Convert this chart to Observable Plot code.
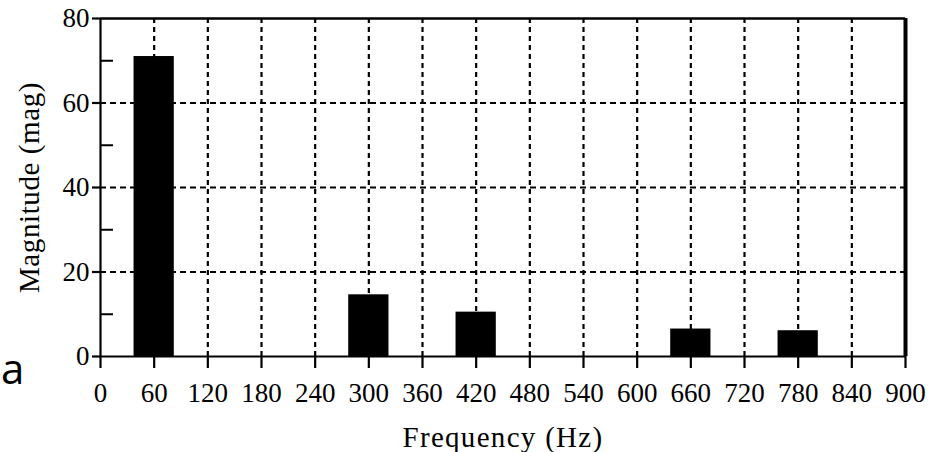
<!DOCTYPE html>
<html>
<head>
<meta charset="utf-8">
<script src="https://cdn.jsdelivr.net/npm/d3@7"></script>
<script src="https://cdn.jsdelivr.net/npm/@observablehq/plot@0.6"></script>
<style>
  html, body { margin: 0; padding: 0; background: #fff; }
  #wrap { position: relative; width: 930px; height: 452px; overflow: hidden; }
  #panel { position: absolute; left: 1px; top: 347px; font-family: "Open Sans", sans-serif; font-size: 42px; line-height: 1; color: #000; }
  #chart svg g[aria-label="x-axis tick label"],
  #chart svg g[aria-label="y-axis tick label"] { font-size: 27px !important; }
</style>
</head>
<body>
<div id="wrap">
  <div id="chart"></div>
  <div id="panel">a</div>
</div>
<script>
// Data
const frequencies = [60, 300, 420, 660, 780];            // Hz
const magnitudes  = [71, 14.6, 10.5, 6.5, 6.1];           // mag
const xTicks = [0, 60, 120, 180, 240, 300, 360, 420, 480, 540, 600, 660, 720, 780, 840, 900];
const yTicks = [0, 20, 40, 60, 80];
const yMinorTicks = [10, 30, 50, 70];
const xGrid = [60, 120, 180, 240, 300, 360, 420, 480, 540, 600, 660, 720, 780, 840];
const yGrid = [20, 40, 60];
const xLabel = "Frequency (Hz)";
const yLabel = "Magnitude (mag)";
const barWidthHz = 45;

const bars = frequencies.map((f, i) => ({f, m: magnitudes[i]}));

const W = 930, H = 452;
const mL = 100, mR = 25, mT = 18, mB = 96;
const serif = "'Liberation Serif', 'DejaVu Serif', serif";

const chart = Plot.plot({
  width: W,
  height: H,
  marginLeft: mL,
  marginRight: mR,
  marginTop: mT,
  marginBottom: mB,
  style: {fontFamily: serif, fontSize: "27px", color: "#000", background: "#fff", overflow: "visible"},
  x: {domain: [0, 900]},
  y: {domain: [0, 80]},
  marks: [
    // dashed grid
    Plot.ruleX(xGrid, {stroke: "#000", strokeWidth: 2.2, strokeDasharray: "5,4"}),
    Plot.ruleY(yGrid, {stroke: "#000", strokeWidth: 2.2, strokeDasharray: "6,4"}),
    // bars
    Plot.rectY(bars, {x1: d => d.f - barWidthHz / 2, x2: d => d.f + barWidthHz / 2, y1: 0, y2: "m", fill: "#000"}),
    // frame lines
    Plot.ruleY([0], {stroke: "#000", strokeWidth: 2.2}),
    Plot.ruleY([80], {stroke: "#000", strokeWidth: 2.5}),
    Plot.ruleX([0], {stroke: "#000", strokeWidth: 2.2}),
    Plot.ruleX([900], {stroke: "#000", strokeWidth: 4, y1: 0, y2: 80}),
    // minor inward y ticks
    Plot.tickY(yMinorTicks, {y: d => d, stroke: "#000", strokeWidth: 2, insetRight: (W - mL - mR) - 13}),
    // axes
    Plot.axisX(xTicks, {tickSize: 12, tickPadding: 14, strokeWidth: 2.2, fontSize: 27, fontFamily: serif, tickFormat: d => String(d), label: null}),
    Plot.axisY(yTicks, {tickSize: 8, tickPadding: 3, strokeWidth: 2.2, fontSize: 27, fontFamily: serif, tickFormat: d => String(d), label: null}),
    // axis titles
    Plot.text([yLabel], {text: d => d, frameAnchor: "left", textAnchor: "middle", lineAnchor: "middle", dx: -71, rotate: -90, fontSize: 29, fontFamily: serif}),
    Plot.text([xLabel], {text: d => d, frameAnchor: "bottom", textAnchor: "middle", lineAnchor: "middle", dy: 81, fontSize: 29, fontFamily: serif})
  ]
});

// widen the axis titles slightly to match the wider serif of the reference
chart.querySelectorAll("text").forEach(t => {
  if (t.textContent === xLabel) t.setAttribute("letter-spacing", "1.3");
  if (t.textContent === yLabel) t.setAttribute("letter-spacing", "0.6");
});
chart.querySelectorAll('g[aria-label="x-axis tick label"], g[aria-label="y-axis tick label"]').forEach(g => {
  g.setAttribute("font-size", "27");
  g.style.fontSize = "27px";
  g.querySelectorAll("text").forEach(t => { t.setAttribute("font-size", "27"); t.style.fontSize = "27px"; });
});

document.getElementById("chart").appendChild(chart);
</script>
</body>
</html>
